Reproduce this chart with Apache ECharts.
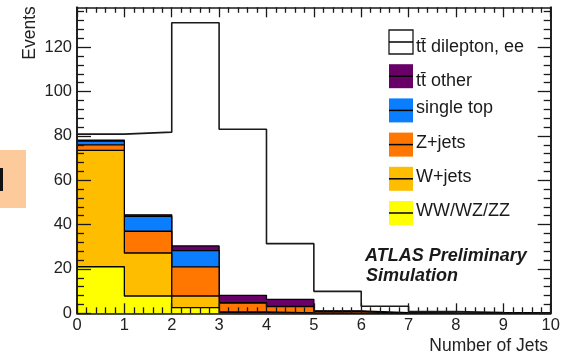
<!DOCTYPE html>
<html>
<head>
<meta charset="utf-8">
<script src="https://cdn.jsdelivr.net/npm/echarts@6/dist/echarts.min.js"></script>
<style>
  html, body { margin: 0; padding: 0; background: #ffffff; }
  #chart { width: 563px; height: 355px; }
</style>
</head>
<body>
<div id="chart"></div>
<script>
// Lower edges of the jet-multiplicity bins (each bin is one jet wide)
const jetBinEdges = [0, 1, 2, 3, 4, 5, 6, 7, 8, 9];
const upperEdge = 10;

// Expected events per bin for each sample (stacked bottom to top)
const dibosonEvents    = [21.0, 7.8, 2.6, 0.3, 0.1, 0.0, 0.0, 0.0, 0.0, 0.0];
const wJetsEvents      = [52.5, 19.4, 5.2, 0.3, 0.1, 0.0, 0.0, 0.0, 0.0, 0.0];
const zJetsEvents      = [2.5, 9.8, 13.1, 4.0, 2.8, 0.8, 0.0, 0.0, 0.0, 0.0];
const singleTopEvents  = [1.7, 6.7, 7.4, 0.2, 0.1, 0.1, 0.0, 0.0, 0.0, 0.0];
const ttOtherEvents    = [0.4, 0.7, 2.1, 3.3, 3.2, 0.2, 0.3, 0.1, 0.0, 0.0];
const ttDileptonEvents = [2.7, 37.3, 100.6, 74.9, 25.1, 8.8, 2.9, 0.7, 0.3, 0.1];

// Sample names as shown in the legend (top to bottom)
const sampleNames = ['tt\u0304 dilepton, ee', 'tt\u0304 other', 'single top', 'Z+jets', 'W+jets', 'WW/WZ/ZZ'];

// Axis tick positions
const xTicks = [0, 1, 2, 3, 4, 5, 6, 7, 8, 9, 10];
const yMajorTicks = [0, 20, 40, 60, 80, 100, 120];
const yMinorTicks = [4, 8, 12, 16, 24, 28, 32, 36, 44, 48, 52, 56, 64, 68, 72, 76, 84, 88, 92, 96, 104, 108, 112, 116, 124, 128, 132, 136];
const yMax = 138;

const fillColors = ['#ffffff', '#680068', '#0a7eff', '#ff7600', '#ffbd00', '#ffff00'];

// Histogram outline: one point per lower bin edge plus the closing upper edge
function histPoints(values) {
  const pts = jetBinEdges.map((x, i) => [x, values[i]]);
  pts.push([upperEdge, values[values.length - 1]]);
  return pts;
}

// Samples from bottom of the stack to the top
const stackOrder = [
  { name: sampleNames[5], values: dibosonEvents, color: fillColors[5] },
  { name: sampleNames[4], values: wJetsEvents, color: fillColors[4] },
  { name: sampleNames[3], values: zJetsEvents, color: fillColors[3] },
  { name: sampleNames[2], values: singleTopEvents, color: fillColors[2] },
  { name: sampleNames[1], values: ttOtherEvents, color: fillColors[1] },
  { name: sampleNames[0], values: ttDileptonEvents, color: fillColors[0] }
];

// Running sums give the top edge of each layer; the layers are painted from the
// tallest cumulative histogram down so the lower ones sit on top of it.
let running = jetBinEdges.map(() => 0);
const series = stackOrder.map((s, k) => {
  running = running.map((v, i) => v + s.values[i]);
  const isSignal = k === stackOrder.length - 1;
  return {
    name: s.name,
    type: 'line',
    step: 'end',
    symbol: 'none',
    z: 9 - k,
    data: histPoints(running),
    lineStyle: { color: isSignal ? '#1a1a1a' : '#000000', width: isSignal ? 1.6 : 1.3 },
    areaStyle: { color: s.color, opacity: 1, origin: 'start' },
    emphasis: { disabled: true }
  };
});

const axisLineStyle = { color: '#1a1a1a', width: 1.6 };
const tickStyle = { color: '#1a1a1a', width: 1.3 };
const labelFont = { fontFamily: 'Liberation Sans, Arial, sans-serif', fontSize: 16.5, color: '#222222' };

function yAxisDef(position, ticks, len, withLabels) {
  return {
    type: 'value', position: position, min: 0, max: yMax, z: 10,
    axisLine: { show: true, onZero: false, lineStyle: axisLineStyle },
    axisTick: { show: true, inside: true, length: len, customValues: ticks, lineStyle: tickStyle },
    axisLabel: withLabels ? Object.assign({ show: true, margin: 5, customValues: ticks }, labelFont) : { show: false },
    splitLine: { show: false }
  };
}

function xAxisDef(position, major, minor, withLabels) {
  return {
    type: 'value', position: position, min: 0, max: upperEdge, interval: 1, z: 10,
    axisLine: { show: true, onZero: false, lineStyle: axisLineStyle },
    axisTick: { show: true, inside: true, length: major, customValues: xTicks, lineStyle: tickStyle },
    minorTick: { show: true, splitNumber: 5, length: minor, lineStyle: tickStyle },
    axisLabel: withLabels ? Object.assign({ show: true, margin: 4, customValues: xTicks }, labelFont) : { show: false },
    splitLine: { show: false },
    minorSplitLine: { show: false }
  };
}

// Legend drawn as histogram-style swatches: filled box with a line through its middle
const legendX = 389, legendY0 = 30, legendStep = 34.2, boxW = 24, boxH = 24;
const legendGraphics = [];
sampleNames.forEach((name, i) => {
  const top = legendY0 + i * legendStep;
  const outlined = i === 0;
  legendGraphics.push({
    type: 'rect', z: 20,
    shape: { x: legendX, y: top, width: boxW, height: boxH },
    style: { fill: fillColors[i], stroke: outlined ? '#1a1a1a' : null, lineWidth: outlined ? 1.3 : 0 }
  });
  legendGraphics.push({
    type: 'line', z: 21,
    shape: { x1: legendX, y1: top + boxH / 2, x2: legendX + boxW, y2: top + boxH / 2 },
    style: { stroke: '#000000', lineWidth: 1.5 }
  });
  legendGraphics.push({
    type: 'text', z: 21,
    x: legendX + boxW + 3,
    y: top + boxH / 2 + (name.indexOf('\u0304') >= 0 ? 5 : -2),
    style: {
      text: name, fill: '#1a1a1a',
      font: '18px "Liberation Sans", Arial, sans-serif',
      textAlign: 'left', textVerticalAlign: 'middle'
    }
  });
});

const chart = echarts.init(document.getElementById('chart'), null, { renderer: 'canvas' });
chart.setOption({
  animation: false,
  backgroundColor: '#ffffff',
  grid: { left: 77, right: 12.3, top: 7.3, bottom: 41.7, containLabel: false },
  xAxis: [xAxisDef('bottom', 10, 6, true), xAxisDef('top', 10, 5.5, false)],
  yAxis: [
    yAxisDef('left', yMajorTicks, 14, true),
    yAxisDef('left', yMinorTicks, 7, false),
    yAxisDef('right', yMajorTicks, 13, false),
    yAxisDef('right', yMinorTicks, 7, false)
  ],
  series: series,
  graphic: [
    { type: 'rect', shape: { x: 0, y: 150, width: 26, height: 58 }, style: { fill: '#fdca9c' }, z: 1 },
    { type: 'rect', shape: { x: 0, y: 168, width: 3, height: 23 }, style: { fill: '#111111' }, z: 2 },
    {
      type: 'text', x: 30, y: 33, rotation: Math.PI / 2, z: 20,
      style: { text: 'Events', fill: '#222222', font: '17.5px "Liberation Sans", Arial, sans-serif', textAlign: 'center', textVerticalAlign: 'middle' }
    },
    {
      type: 'text', x: 548, y: 346, z: 20,
      style: { text: 'Number of Jets', fill: '#222222', font: '17.5px "Liberation Sans", Arial, sans-serif', textAlign: 'right', textVerticalAlign: 'middle' }
    },
    {
      type: 'text', x: 365, y: 256, z: 20,
      style: { text: 'ATLAS Preliminary', fill: '#1a1a1a', font: 'italic bold 18px "Liberation Sans", Arial, sans-serif', textAlign: 'left', textVerticalAlign: 'middle' }
    },
    {
      type: 'text', x: 366, y: 276, z: 20,
      style: { text: 'Simulation', fill: '#1a1a1a', font: 'italic bold 18px "Liberation Sans", Arial, sans-serif', textAlign: 'left', textVerticalAlign: 'middle' }
    }
  ].concat(legendGraphics)
});
</script>
</body>
</html>
